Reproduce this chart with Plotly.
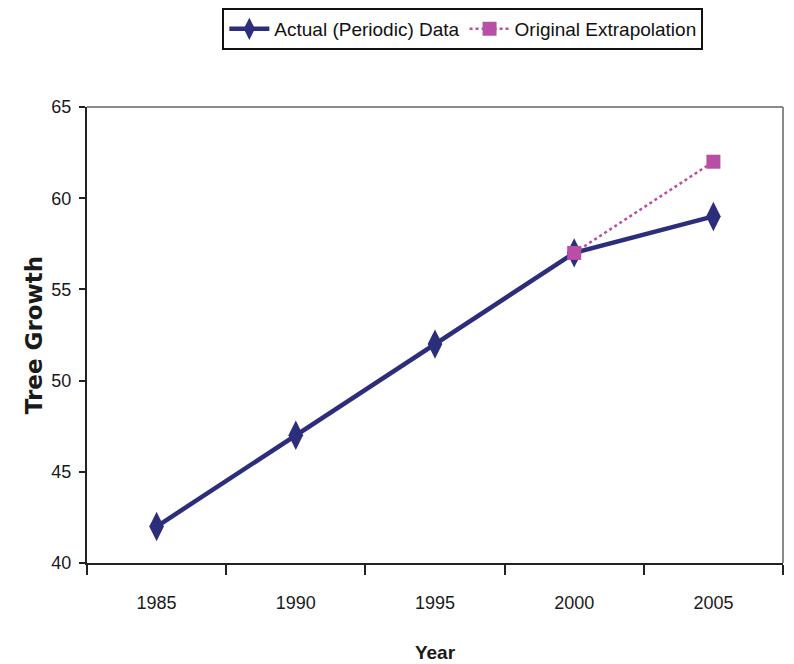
import plotly.graph_objects as go

years = ["1985", "1990", "1995", "2000", "2005"]
actual = [42, 47, 52, 57, 59]
extrap_years = ["2000", "2005"]
extrap = [57, 62]

NAVY = "#2D2E7B"
MAGENTA = "#B84FA4"
SANS = "Liberation Sans, Arial, sans-serif"
TEXT = "#1a1a1a"

fig = go.Figure()
fig.add_trace(go.Scatter(
    x=years, y=actual, name="Actual (Periodic) Data", mode="lines+markers",
    line=dict(color=NAVY, width=4.5),
    marker=dict(symbol="diamond-tall", size=21, color=NAVY),
))
fig.add_trace(go.Scatter(
    x=extrap_years, y=extrap, name="Original Extrapolation", mode="lines+markers",
    line=dict(color=MAGENTA, width=2.5, dash="dot"),
    marker=dict(symbol="square", size=14, color=MAGENTA),
))

fig.update_layout(
    width=794, height=664,
    margin=dict(l=87, r=11, t=107, b=101, autoexpand=False),
    paper_bgcolor="white", plot_bgcolor="white",
    font=dict(family=SANS, size=18, color=TEXT),
    legend=dict(
        orientation="h", x=0.54, xanchor="center", y=1.171, yanchor="middle",
        bordercolor="#111111", borderwidth=2, bgcolor="white",
        font=dict(family=SANS, size=19, color="#111111"),
        itemwidth=40, tracegroupgap=0,
    ),
    shapes=[
        dict(type="line", xref="paper", yref="paper", x0=0, x1=1, y0=1, y1=1,
             line=dict(color="#8a8a8a", width=2)),
        dict(type="line", xref="paper", yref="paper", x0=1, x1=1, y0=0, y1=1,
             line=dict(color="#8a8a8a", width=2)),
    ],
)

fig.update_xaxes(
    type="category", range=[-0.5, 4.5], tickson="boundaries",
    showline=True, linecolor="#222222", linewidth=2,
    ticks="outside", ticklen=10, tickwidth=2, tickcolor="#222222",
    showgrid=False, zeroline=False,
    ticklabelstandoff=22,
    tickfont=dict(family=SANS, size=18, color=TEXT),
    title=dict(text="<b>Year</b>", standoff=34,
               font=dict(family=SANS, size=19, color=TEXT)),
)
fig.update_yaxes(
    range=[40, 65], dtick=5,
    showline=True, linecolor="#222222", linewidth=2,
    ticks="outside", ticklen=6, tickwidth=2, tickcolor="#222222",
    showgrid=False, zeroline=False,
    ticklabelstandoff=4,
    tickfont=dict(family=SANS, size=18, color=TEXT),
    title=dict(text="<b>Tree Growth</b>", standoff=2,
               font=dict(family="DejaVu Sans, sans-serif", size=23, color=TEXT)),
)

fig.write_html("out.html")
